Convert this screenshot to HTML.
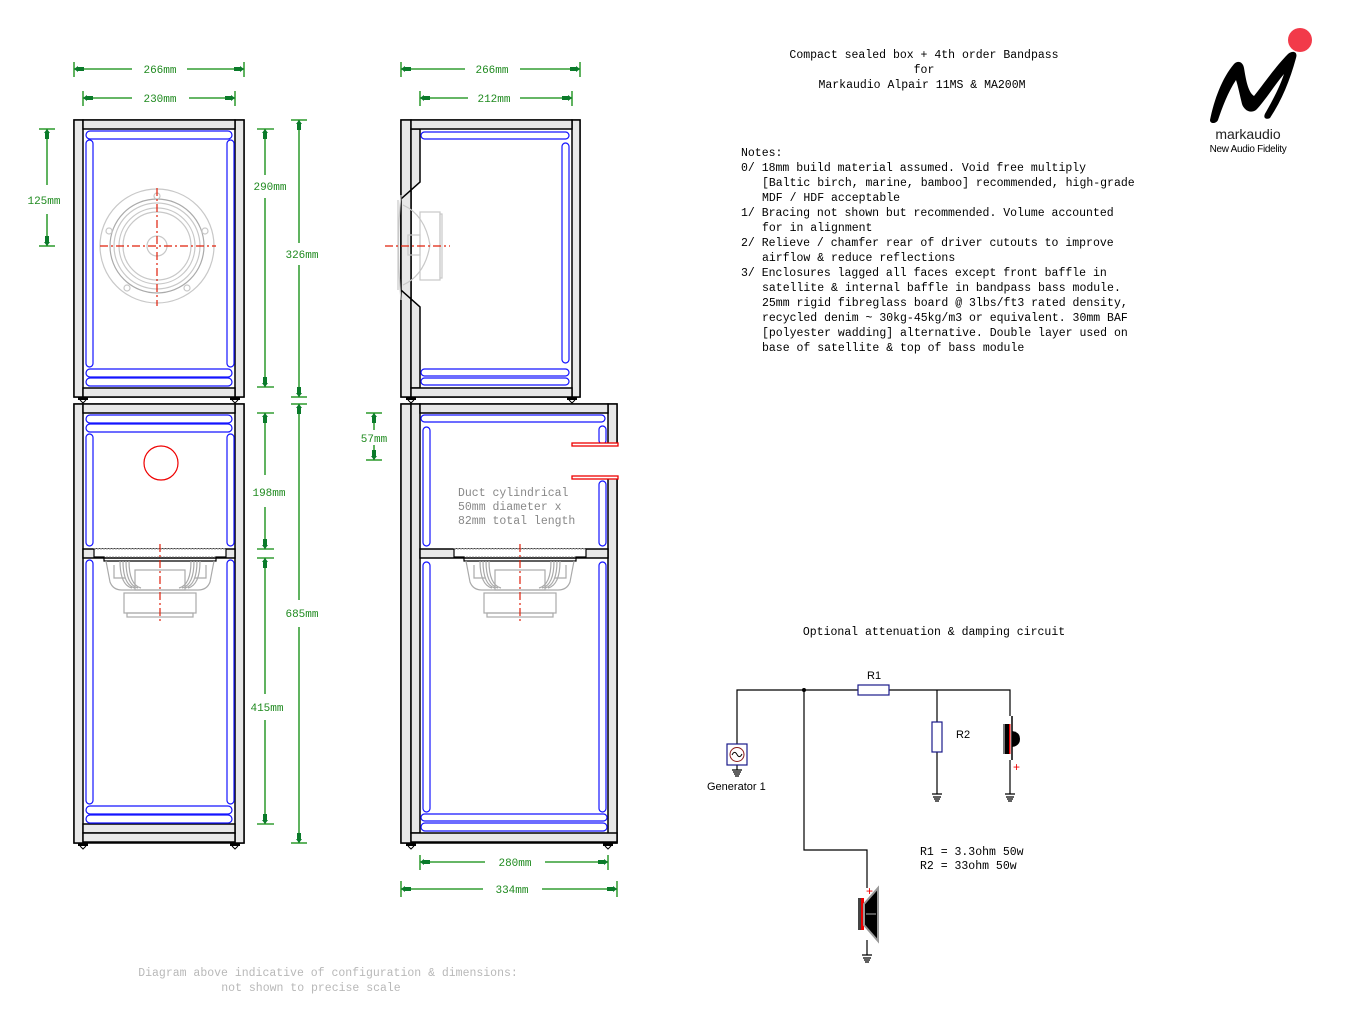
<!DOCTYPE html>
<html><head><meta charset="utf-8"><style>
html,body{margin:0;padding:0;background:#fff}
svg{display:block}
.m{font-family:"Liberation Mono",monospace;font-size:11.5px}
.d{font-family:"Liberation Mono",monospace;font-size:11px;fill:#1f8a1f}
.p{fill:#e8e8e8;stroke:#000;stroke-width:1.5}
.bl{fill:none;stroke:#1414ff;stroke-width:1.2}
.g{stroke:#0a8a0a;stroke-width:1.3;fill:none}
.gr{fill:none;stroke:#aaa;stroke-width:1.2}
.w{stroke:#000;stroke-width:1.2;fill:none}
</style></head><body>
<svg width="1346" height="1026" viewBox="0 0 1346 1026" xmlns="http://www.w3.org/2000/svg">
<defs>
<marker id="a" markerWidth="10" markerHeight="8" refX="10" refY="4" orient="auto-start-reverse" markerUnits="userSpaceOnUse">
<path d="M0,2 L6,2 L6,1 L10,4 L6,7 L6,6 L0,6 Z" fill="#0a7a2a"/></marker>
<g id="foot"><rect x="-5" y="0" width="10" height="3" fill="#000"/><path d="M-3,3 L0,6 L3,3" fill="none" stroke="#000" stroke-width="1"/></g>
<g id="bass">
<rect x="-66" y="549" width="132" height="8" fill="#fff" stroke="#999" stroke-dasharray="2,1"/>
<path d="M-66,549 L-66,557 L-56,557 L-56,561 L56,561 L56,557 L66,557 L66,549" class="w"/>
<path d="M-54,561 L-50,582 Q-47,590 -38,590 L38,590 Q47,590 50,582 L54,561" class="gr"/>
<rect x="-25" y="570" width="50" height="20" class="gr"/>
<rect x="-36" y="593" width="72" height="20" class="gr"/>
<rect x="-33" y="613" width="66" height="4" class="gr"/>
<path d="M-40,561 Q-40,585 -28,588 M-37,561 Q-37,585 -25,588 M-34,561 Q-34,585 -22,588 M-31,561 Q-31,585 -19,588 M40,561 Q40,585 28,588 M37,561 Q37,585 25,588 M34,561 Q34,585 22,588 M31,561 Q31,585 19,588" class="gr" stroke-width="0.9"/>
<path d="M-46,565 L-46,578 L-35,578 M46,565 L46,578 L35,578" class="gr"/>
<line x1="0" y1="544" x2="0" y2="624" stroke="#e0200a" stroke-width="1.2" stroke-dasharray="8,3,2,3"/>
</g>
</defs>

<!-- LEFT TOP CABINET -->
<rect x="74" y="120" width="170" height="277" fill="#fff" stroke="#000" stroke-width="1.5"/>
<rect x="74" y="120" width="9" height="277" class="p"/>
<rect x="235" y="120" width="9" height="277" class="p"/>
<rect x="83" y="120" width="152" height="9" class="p"/>
<rect x="83" y="388" width="152" height="9" class="p"/>
<rect x="86" y="131" width="146" height="8" rx="4" class="bl"/>
<rect x="86" y="140" width="7" height="227" rx="3.5" class="bl"/>
<rect x="227" y="140" width="7" height="227" rx="3.5" class="bl"/>
<rect x="86" y="369" width="146" height="8" rx="4" class="bl"/>
<rect x="86" y="378" width="146" height="8" rx="4" class="bl"/>
<g fill="none" stroke="#c8c8c8" stroke-width="1.2">
<circle cx="157" cy="246" r="57"/><circle cx="157" cy="246" r="47" stroke="#aaa"/><circle cx="157" cy="246" r="43"/><circle cx="157" cy="246" r="38"/><circle cx="157" cy="246" r="34"/><circle cx="157" cy="246" r="10"/>
<circle cx="157" cy="196" r="3"/><circle cx="109" cy="231" r="3"/><circle cx="205" cy="231" r="3"/><circle cx="127" cy="288" r="3"/><circle cx="187" cy="288" r="3"/>
</g>
<line x1="100" y1="246" x2="216" y2="246" stroke="#e0200a" stroke-width="1.2" stroke-dasharray="8,3,2,3"/>
<line x1="157" y1="188" x2="157" y2="306" stroke="#e0200a" stroke-width="1.2" stroke-dasharray="8,3,2,3"/>
<use href="#foot" x="83" y="397"/><use href="#foot" x="235" y="397"/>

<!-- LEFT BASS CABINET -->
<rect x="74" y="404" width="170" height="439" fill="#fff" stroke="#000" stroke-width="1.5"/>
<rect x="74" y="404" width="9" height="439" class="p"/>
<rect x="235" y="404" width="9" height="439" class="p"/>
<rect x="83" y="404" width="152" height="9" class="p"/>
<rect x="83" y="549" width="152" height="9" class="p"/>
<rect x="83" y="824" width="152" height="9" class="p"/>
<rect x="83" y="833" width="152" height="9" class="p"/>
<rect x="86" y="415" width="146" height="8" rx="4" class="bl"/>
<rect x="86" y="424" width="146" height="8" rx="4" class="bl"/>
<rect x="86" y="434" width="7" height="112" rx="3.5" class="bl"/>
<rect x="227" y="434" width="7" height="112" rx="3.5" class="bl"/>
<rect x="86" y="560" width="7" height="244" rx="3.5" class="bl"/>
<rect x="227" y="560" width="7" height="244" rx="3.5" class="bl"/>
<rect x="86" y="806" width="146" height="8" rx="4" class="bl"/>
<rect x="86" y="815" width="146" height="8" rx="4" class="bl"/>
<circle cx="161" cy="463" r="17" fill="none" stroke="#e00" stroke-width="1.2"/>
<use href="#bass" x="160" y="0"/>
<use href="#foot" x="83" y="843"/><use href="#foot" x="235" y="843"/>

<!-- RIGHT TOP CABINET -->
<rect x="401" y="120" width="179" height="277" fill="#fff" stroke="#000" stroke-width="1.5"/>
<rect x="401" y="120" width="10" height="277" class="p"/>
<path d="M411,129 L420,129 L420,182 L401,199 L401,290 L420,307 L420,388 L411,388 Z" class="p"/>
<rect x="572" y="120" width="8" height="277" class="p"/>
<rect x="411" y="120" width="161" height="9" class="p"/>
<rect x="411" y="388" width="161" height="9" class="p"/>
<rect x="421" y="132" width="148" height="7" rx="3.5" class="bl"/>
<rect x="562" y="143" width="7" height="220" rx="3.5" class="bl"/>
<rect x="421" y="369" width="148" height="7" rx="3.5" class="bl"/>
<rect x="421" y="378" width="148" height="7" rx="3.5" class="bl"/>
<g fill="none" stroke="#c8c8c8" stroke-width="1.2">
<path d="M401,195 Q396,245 401,300"/><path d="M398,200 L398,290"/>
<path d="M403,205 Q425,215 430,245 Q425,275 403,285"/>
<rect x="420" y="212" width="20" height="68"/><rect x="440" y="214" width="2" height="64"/>
<rect x="408" y="235" width="12" height="20"/>
</g>
<line x1="385" y1="246" x2="450" y2="246" stroke="#e0200a" stroke-width="1.2" stroke-dasharray="8,3,2,3"/>
<use href="#foot" x="411" y="397"/><use href="#foot" x="572" y="397"/>

<!-- RIGHT BASS CABINET -->
<rect x="401" y="404" width="216" height="439" fill="#fff" stroke="#000" stroke-width="1.5"/>
<rect x="401" y="404" width="10" height="439" class="p"/>
<rect x="411" y="404" width="9" height="429" class="p"/>
<rect x="608" y="404" width="9" height="41" class="p"/>
<rect x="608" y="477" width="9" height="366" class="p"/>
<rect x="611" y="446" width="8" height="30" fill="#fff"/>
<rect x="420" y="404" width="188" height="9" class="p"/>
<rect x="420" y="549" width="188" height="9" class="p"/>
<rect x="411" y="833" width="206" height="9" class="p"/>
<rect x="421" y="415" width="184" height="7" rx="3.5" class="bl"/>
<rect x="423" y="427" width="7" height="119" rx="3.5" class="bl"/>
<rect x="599" y="426" width="7" height="18" rx="3.5" class="bl"/>
<rect x="599" y="481" width="7" height="65" rx="3.5" class="bl"/>
<rect x="423" y="562" width="7" height="250" rx="3.5" class="bl"/>
<rect x="599" y="562" width="7" height="250" rx="3.5" class="bl"/>
<rect x="421" y="814" width="186" height="7" rx="3.5" class="bl"/>
<rect x="421" y="823" width="186" height="8" rx="4" class="bl"/>
<rect x="572" y="443" width="46" height="3" fill="#fff" stroke="#e00" stroke-width="1.3"/>
<rect x="572" y="476" width="46" height="3" fill="#fff" stroke="#e00" stroke-width="1.3"/>
<text class="m" x="458" y="496" fill="#888">Duct cylindrical</text>
<text class="m" x="458" y="510" fill="#888">50mm diameter x</text>
<text class="m" x="458" y="524" fill="#888">82mm total length</text>
<use href="#bass" x="520" y="0"/>
<use href="#foot" x="411" y="843"/><use href="#foot" x="608" y="843"/>

<!-- DIMENSIONS -->
<g class="g">
<line x1="74" y1="62" x2="74" y2="77"/><line x1="244" y1="62" x2="244" y2="77"/>
<line x1="74" y1="69" x2="132" y2="69" marker-start="url(#a)"/><line x1="187" y1="69" x2="244" y2="69" marker-end="url(#a)"/>
<line x1="83" y1="91" x2="83" y2="106"/><line x1="235" y1="91" x2="235" y2="106"/>
<line x1="83" y1="98" x2="132" y2="98" marker-start="url(#a)"/><line x1="189" y1="98" x2="235" y2="98" marker-end="url(#a)"/>
<line x1="401" y1="62" x2="401" y2="77"/><line x1="580" y1="62" x2="580" y2="77"/>
<line x1="401" y1="69" x2="465" y2="69" marker-start="url(#a)"/><line x1="520" y1="69" x2="580" y2="69" marker-end="url(#a)"/>
<line x1="420" y1="91" x2="420" y2="106"/><line x1="572" y1="91" x2="572" y2="106"/>
<line x1="420" y1="98" x2="468" y2="98" marker-start="url(#a)"/><line x1="520" y1="98" x2="572" y2="98" marker-end="url(#a)"/>
<line x1="420" y1="855" x2="420" y2="870"/><line x1="608" y1="855" x2="608" y2="870"/>
<line x1="420" y1="862" x2="485" y2="862" marker-start="url(#a)"/><line x1="545" y1="862" x2="608" y2="862" marker-end="url(#a)"/>
<line x1="401" y1="881" x2="401" y2="897"/><line x1="617" y1="881" x2="617" y2="897"/>
<line x1="401" y1="889" x2="483" y2="889" marker-start="url(#a)"/><line x1="542" y1="889" x2="617" y2="889" marker-end="url(#a)"/>
<line x1="39" y1="129" x2="55" y2="129"/><line x1="39" y1="246" x2="55" y2="246"/>
<line x1="47" y1="129" x2="47" y2="185" marker-start="url(#a)"/><line x1="47" y1="214" x2="47" y2="246" marker-end="url(#a)"/>
<line x1="257" y1="129" x2="274" y2="129"/><line x1="257" y1="387" x2="274" y2="387"/>
<line x1="265" y1="129" x2="265" y2="175" marker-start="url(#a)"/><line x1="265" y1="198" x2="265" y2="387" marker-end="url(#a)"/>
<line x1="291" y1="120" x2="307" y2="120"/><line x1="291" y1="397" x2="307" y2="397"/>
<line x1="299" y1="120" x2="299" y2="243" marker-start="url(#a)"/><line x1="299" y1="265" x2="299" y2="397" marker-end="url(#a)"/>
<line x1="257" y1="413" x2="274" y2="413"/><line x1="257" y1="549" x2="274" y2="549"/>
<line x1="265" y1="413" x2="265" y2="475" marker-start="url(#a)"/><line x1="265" y1="507" x2="265" y2="549" marker-end="url(#a)"/>
<line x1="291" y1="404" x2="307" y2="404"/><line x1="291" y1="843" x2="307" y2="843"/>
<line x1="299" y1="404" x2="299" y2="600" marker-start="url(#a)"/><line x1="299" y1="627" x2="299" y2="843" marker-end="url(#a)"/>
<line x1="257" y1="558" x2="274" y2="558"/><line x1="257" y1="824" x2="274" y2="824"/>
<line x1="265" y1="558" x2="265" y2="694" marker-start="url(#a)"/><line x1="265" y1="720" x2="265" y2="824" marker-end="url(#a)"/>
<line x1="366" y1="413" x2="382" y2="413"/><line x1="366" y1="460" x2="382" y2="460"/>
<line x1="374" y1="413" x2="374" y2="430" marker-start="url(#a)"/><line x1="374" y1="445" x2="374" y2="460" marker-end="url(#a)"/>
</g>
<g class="d" text-anchor="middle">
<text x="160" y="73">266mm</text><text x="160" y="102">230mm</text>
<text x="492" y="73">266mm</text><text x="494" y="102">212mm</text>
<text x="515" y="866">280mm</text><text x="512" y="893">334mm</text>
<text x="44" y="204">125mm</text><text x="270" y="190">290mm</text><text x="302" y="258">326mm</text>
<text x="269" y="496">198mm</text><text x="302" y="617">685mm</text><text x="267" y="711">415mm</text>
<text x="374" y="442">57mm</text>
</g>

<!-- TEXT -->
<g class="m" fill="#000">
<text x="924" y="58" text-anchor="middle">Compact sealed box + 4th order Bandpass</text>
<text x="924" y="73" text-anchor="middle">for</text>
<text x="922" y="88" text-anchor="middle">Markaudio  Alpair 11MS &amp; MA200M</text>
<text x="741" y="156">Notes:</text>
<text x="741" y="171">0/ 18mm build material assumed. Void free multiply</text>
<text x="762" y="186">[Baltic birch, marine, bamboo] recommended, high-grade</text>
<text x="762" y="201">MDF / HDF acceptable</text>
<text x="741" y="216">1/ Bracing not shown but recommended. Volume accounted</text>
<text x="762" y="231">for in alignment</text>
<text x="741" y="246">2/ Relieve / chamfer rear of driver cutouts to improve</text>
<text x="762" y="261">airflow &amp; reduce reflections</text>
<text x="741" y="276">3/ Enclosures lagged all faces except front baffle in</text>
<text x="762" y="291">satellite &amp; internal baffle in bandpass bass module.</text>
<text x="762" y="306">25mm rigid fibreglass board @ 3lbs/ft3 rated density,</text>
<text x="762" y="321">recycled denim ~ 30kg-45kg/m3 or equivalent. 30mm BAF</text>
<text x="762" y="336">[polyester wadding] alternative. Double layer used on</text>
<text x="762" y="351">base of satellite &amp; top of bass module</text>
<text x="934" y="635" text-anchor="middle">Optional attenuation &amp; damping circuit</text>
<text x="920" y="855">R1 = 3.3ohm 50w</text>
<text x="920" y="869">R2 = 33ohm 50w</text>
</g>
<g class="m" fill="#b8b8b8" text-anchor="middle">
<text x="328" y="976">Diagram above indicative of configuration &amp; dimensions:</text>
<text x="311" y="991">not shown to precise scale</text>
</g>

<!-- CIRCUIT -->
<g class="w">
<path d="M737,744 L737,690 L858,690 M889,690 L1010,690 L1010,716 M937,690 L937,722 M937,752 L937,794 M1010,760 L1010,794 M804,690 L804,850 L867,850 L867,888 M867,940 L867,955 M737,765 L737,770"/>
<path d="M732,770 L742,770 M733,772 L741,772 M734,774 L740,774 M735,776 L739,776 M932,794 L942,794 M933,797 L941,797 M934,799 L940,799 M935,801 L939,801 M1005,794 L1015,794 M1006,797 L1014,797 M1007,799 L1013,799 M1008,801 L1012,801 M862,955 L872,955 M863,958 L871,958 M864,960 L870,960 M865,962 L869,962"/>
</g>
<circle cx="804" cy="690" r="2" fill="#000"/>
<rect x="858" y="685" width="31" height="10" fill="#fff" stroke="#1a1a8a" stroke-width="1.2"/>
<rect x="932" y="722" width="10" height="30" fill="#fff" stroke="#1a1a8a" stroke-width="1.2"/>
<rect x="727" y="744" width="20" height="21" fill="#fff" stroke="#1a1a8a" stroke-width="1.2"/>
<circle cx="737" cy="754.5" r="7" fill="none" stroke="#8a1a1a" stroke-width="1"/>
<path d="M732,755 Q734.5,750 737,754.5 Q739.5,759 742,754" fill="none" stroke="#000" stroke-width="1"/>
<!-- tweeter -->
<rect x="1003" y="724" width="4" height="30" fill="#777"/>
<rect x="1005" y="724" width="4" height="30" fill="#000"/>
<rect x="1009" y="724" width="1.5" height="30" fill="#e00"/>
<path d="M1012,716 L1012,760" stroke="#000" stroke-width="1.5"/>
<path d="M1012,731 Q1020,732 1020,739 Q1020,746 1012,747 Z" fill="#000"/>
<text x="1013" y="771" fill="#e00" font-family="Liberation Sans,sans-serif" font-size="12">+</text>
<!-- woofer -->
<rect x="858" y="898" width="4" height="32" fill="#444"/>
<rect x="861" y="898" width="3" height="32" fill="#e00"/>
<path d="M864,904 L878,888 L878,941 L864,925 Z" fill="#000" stroke="#999" stroke-width="2"/>
<path d="M866,914 L876,914" stroke="#777" stroke-width="1.5"/>
<text x="866" y="895" fill="#e00" font-family="Liberation Sans,sans-serif" font-size="12">+</text>
<g font-family="Liberation Sans,sans-serif" font-size="11" fill="#000">
<text x="867" y="679">R1</text><text x="956" y="738">R2</text><text x="707" y="790">Generator 1</text>
</g>

<!-- LOGO -->
<path d="M1210,120 C1214,100 1222,78 1234,64 C1238,60 1243,62 1244,68 C1246,80 1248,92 1254,96 C1262,86 1276,66 1288,54 C1293,50 1298,52 1296,58 C1290,80 1282,100 1270,118 C1266,120 1262,118 1266,112 C1274,98 1280,86 1284,74 C1274,86 1264,102 1256,110 C1250,114 1244,110 1242,104 C1240,96 1238,86 1236,80 C1228,92 1222,108 1218,120 C1216,124 1210,124 1210,120 Z" fill="#000"/>
<circle cx="1300" cy="40" r="12" fill="#f23a4a"/>
<text x="1248" y="139" text-anchor="middle" font-family="Liberation Sans,sans-serif" font-size="14" fill="#222">markaudio</text>
<text x="1248" y="152" text-anchor="middle" font-family="Liberation Sans,sans-serif" font-size="10" fill="#000" letter-spacing="-0.3">New Audio Fidelity</text>
</svg>
</body></html>
